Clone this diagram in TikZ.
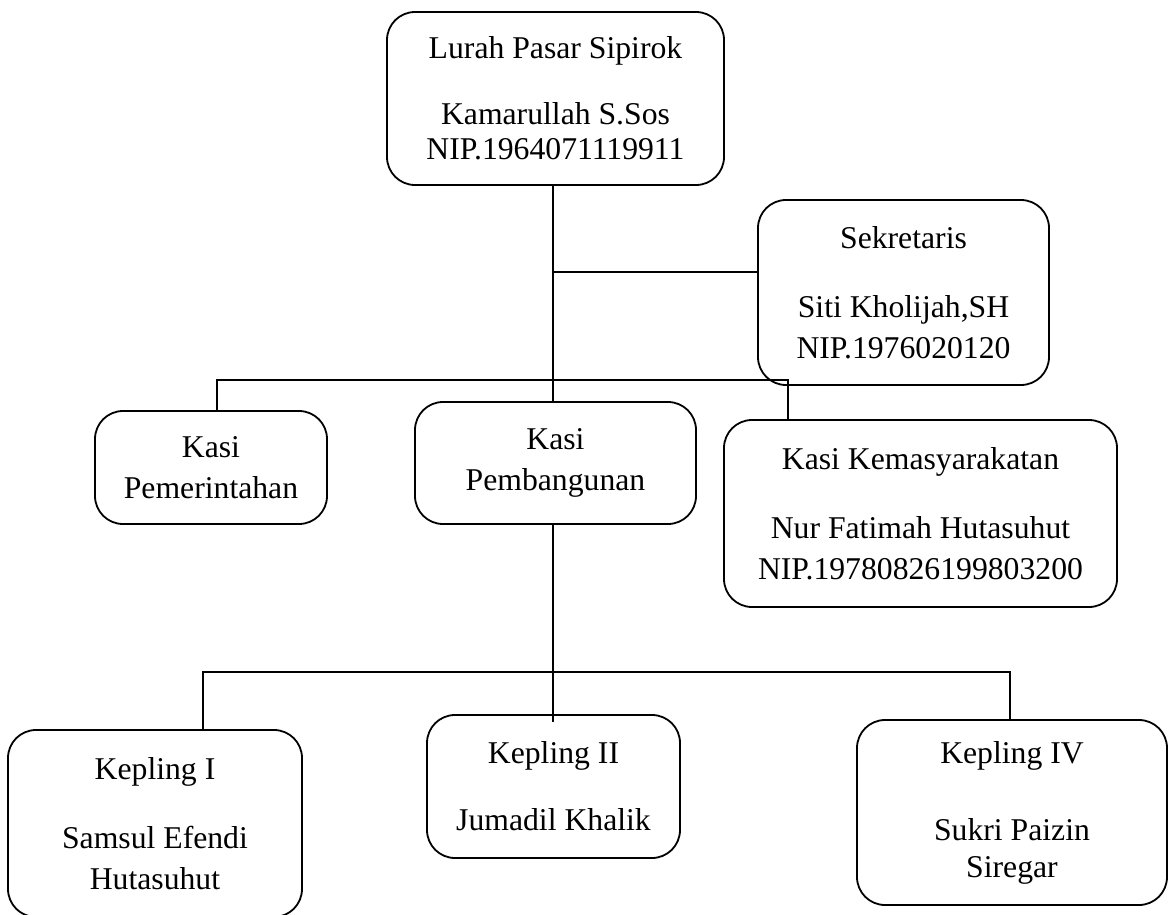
\documentclass[tikz,border=0pt]{standalone}
\usepackage{fontspec}
\setmainfont{Liberation Serif}
\begin{document}
\begin{tikzpicture}[x=0.5pt,y=-0.5pt,
  box/.style={draw, line width=0.9pt, rounded corners=14pt, inner sep=0pt,
    align=center, font=\fontsize{15.85}{20.5}\selectfont},
  conn/.style={line width=0.9pt}]
\useasboundingbox (0,0) rectangle (1168,915);
\node[box, minimum width=168.5pt, minimum height=86.5pt] (lurah) at (555.5,98.5)
  {Lurah Pasar Sipirok\\[12.5pt]Kamarullah S.Sos\\[-3pt]NIP.1964071119911};
\node[box, minimum width=145.5pt, minimum height=92.5pt] (sek) at (903.5,292.5)
  {Sekretaris\\[14pt]Siti Kholijah,SH\\NIP.1976020120};
\node[box, minimum width=116pt, minimum height=56.5pt] (pemer) at (211,467.5)
  {Kasi\\Pemerintahan};
\node[box, minimum width=140.5pt, minimum height=61pt] (pemb) at (555.5,463)
  {Kasi\\Pembangunan};
\node[box, minimum width=196.5pt, minimum height=93.5pt] (kemas) at (920.5,513.5)
  {Kasi Kemasyarakatan\\[14pt]Nur Fatimah Hutasuhut\\NIP.19780826199803200};
\node[box, minimum width=147pt, minimum height=93.5pt] (kep1) at (155,823.5)
  {Kepling I\\[14pt]Samsul Efendi\\Hutasuhut};
\node[box, minimum width=126.5pt, minimum height=71.5pt] (kep2) at (553.5,786.5)
  {Kepling II\\[13pt]Jumadil Khalik};
\node[box, minimum width=155pt, minimum height=92.5pt] (kep4) at (1012,812.5)
  {Kepling IV\\[18pt]Sukri Paizin\\[-2pt]Siregar};
% connectors
\coordinate (a) at (553,272);
\coordinate (b) at (217,380);
\coordinate (c) at (788,380);
\coordinate (d) at (203,672);
\coordinate (e) at (1010,672);
\draw[conn] (553,0 |- lurah.south) -- (553,0 |- pemb.north);
\draw[conn] (a) -- (a -| sek.west);
\draw[conn] (b |- pemer.north) -- (b) -- (c) -- (c |- kemas.north);
\draw[conn] (553,0 |- pemb.south) -- ([yshift=-4pt]553,0 |- kep2.north);
\draw[conn] (d |- kep1.north) -- (d) -- (e) -- (e |- kep4.north);
\end{tikzpicture}
\end{document}
